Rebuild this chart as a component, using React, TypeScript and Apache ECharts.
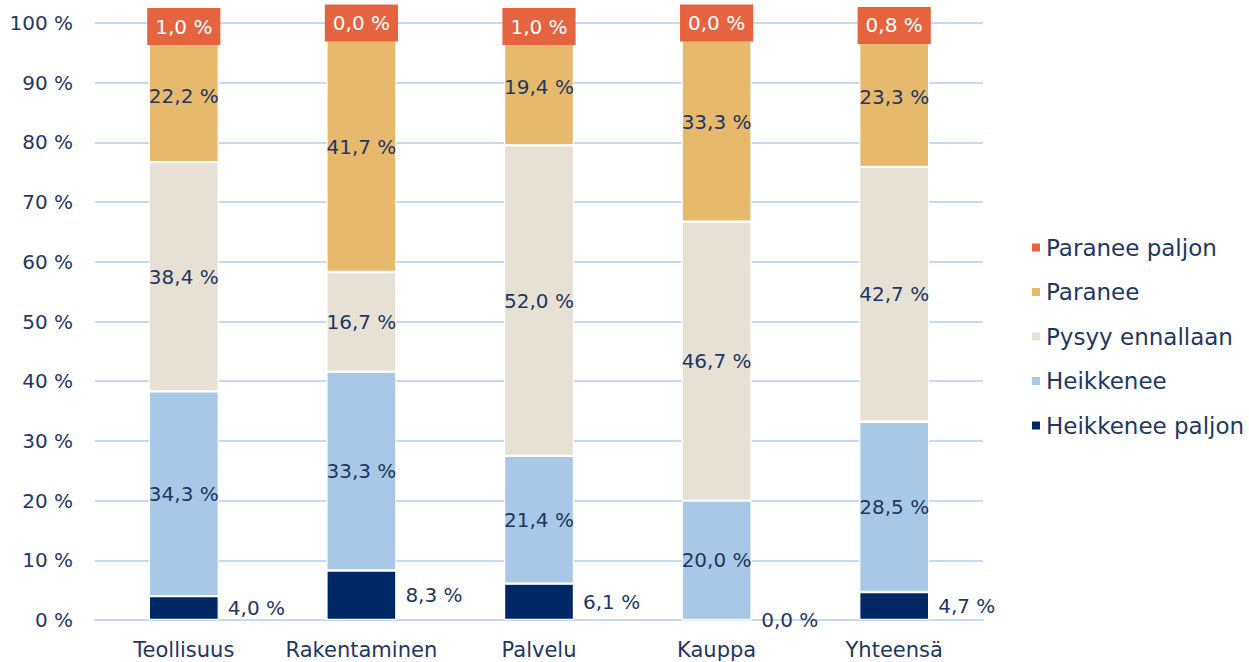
import React, { useEffect, useRef } from "react";
import * as echarts from "echarts";

const categories = ["Teollisuus", "Rakentaminen", "Palvelu", "Kauppa", "Yhteensä"];
const seriesNames = ["Heikkenee paljon", "Heikkenee", "Pysyy ennallaan", "Paranee", "Paranee paljon"];
const heikkeneePaljon = [4.0, 8.3, 6.1, 0.0, 4.7];
const heikkenee = [34.3, 33.3, 21.4, 20.0, 28.5];
const pysyyEnnallaan = [38.4, 16.7, 52.0, 46.7, 42.7];
const paranee = [22.2, 41.7, 19.4, 33.3, 23.3];
const paraneePaljon = [1.0, 0.0, 1.0, 0.0, 0.8];
const seriesData = [heikkeneePaljon, heikkenee, pysyyEnnallaan, paranee, paraneePaljon];
const colors = ["#002864", "#a7c9e7", "#e7e1d5", "#e6b96c", "#e5643f"];

const FONT = "DejaVu Sans";
const NAVY = "#1f3763";
const fmt = (v: number) => v.toFixed(1).replace(".", ",") + " %";

export default function App() {
  const ref = useRef<HTMLDivElement>(null);
  useEffect(() => {
    if (!ref.current) return;
    const chart = echarts.init(ref.current, undefined, { renderer: "svg" });
    const series = seriesNames.map((name, i) => {
      let label: any = {
        show: true,
        position: "inside",
        color: NAVY,
        fontFamily: FONT,
        fontSize: 20,
        formatter: (p: any) => fmt(p.value),
      };
      if (i === 0) {
        label = { ...label, position: "right", distance: 9 };
      } else if (i === 4) {
        label = {
          ...label,
          position: "inside",
          color: "#ffffff",
          backgroundColor: colors[4],
          padding: [8, 8, 8, 8],
          lineHeight: 21,
          offset: [0, 0],
        };
      }
      return {
        name,
        type: "bar",
        stack: "total",
        barWidth: 70,
        data: seriesData[i],
        itemStyle: { color: colors[i], borderColor: "#ffffff", borderWidth: 1.2 },
        label,
      };
    });
    chart.setOption({
      animation: false,
      grid: { left: 95, right: 266, top: 23, bottom: 42, containLabel: false },
      legend: {
        orient: "vertical",
        left: 1025,
        top: 230,
        icon: "rect",
        itemWidth: 10,
        itemHeight: 10,
        itemGap: 19.5,
        data: [...seriesNames].reverse(),
        textStyle: { color: NAVY, fontFamily: FONT, fontSize: 23, lineHeight: 25 },
      },
      xAxis: {
        type: "category",
        data: categories,
        axisLine: { show: true, lineStyle: { color: "#c6d9f4", width: 2 } },
        axisTick: { show: false },
        axisLabel: { color: NAVY, fontFamily: FONT, fontSize: 21, margin: 19, interval: 0 },
      },
      yAxis: {
        type: "value",
        min: 0,
        max: 100,
        interval: 10,
        axisLine: { show: false },
        axisTick: { show: false },
        splitLine: { lineStyle: { color: "#c6d9f4", width: 2 } },
        axisLabel: {
          color: NAVY,
          fontFamily: FONT,
          fontSize: 20,
          margin: 22,
          formatter: (v: number) => v + " %",
        },
      },
      series,
    });
    return () => chart.dispose();
  }, []);
  return (
    <div
      ref={ref}
      style={{ position: "absolute", left: 0, top: 0, width: 1249, height: 662, background: "#ffffff" }}
    />
  );
}
